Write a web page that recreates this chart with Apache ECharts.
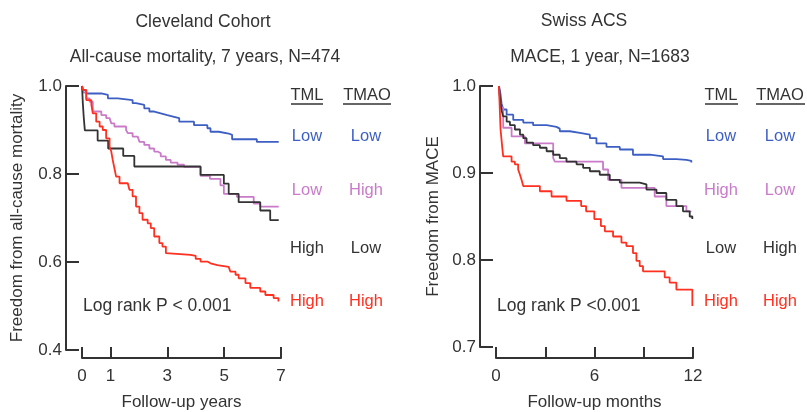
<!DOCTYPE html>
<html>
<head>
<meta charset="utf-8">
<script src="https://cdn.jsdelivr.net/npm/echarts@6/dist/echarts.min.js"></script>
<style>
  html, body { margin: 0; padding: 0; background: #fff; }
  #chart { width: 807px; height: 412px; }
</style>
</head>
<body>
<div id="chart"></div>
<script>
// Cleveland cohort, follow-up in years
var leftBlueT = [0, 0.05, 0.15, 0.68, 0.91, 1.26, 1.78, 1.9, 2.19, 2.37, 2.54, 2.77, 3.0, 3.24, 3.42, 3.94, 4.41, 4.52, 4.81, 5.16, 5.28, 6.15, 6.92];
var leftBlueS = [1.0, 0.99, 0.983, 0.98, 0.972, 0.968, 0.961, 0.957, 0.949, 0.942, 0.938, 0.934, 0.93, 0.927, 0.919, 0.911, 0.904, 0.896, 0.892, 0.889, 0.879, 0.873, 0.873];

var leftPinkT = [0, 0.05, 0.15, 0.27, 0.38, 0.68, 0.85, 0.97, 1.03, 1.14, 1.55, 1.61, 1.78, 1.96, 2.02, 2.19, 2.37, 2.54, 2.66, 2.77, 2.95, 3.12, 3.36, 3.59, 4.17, 4.5, 4.87, 4.99, 5.45, 6.04, 6.27, 6.92];
var leftPinkS = [1.0, 0.985, 0.972, 0.964, 0.942, 0.934, 0.927, 0.923, 0.915, 0.908, 0.9, 0.893, 0.885, 0.881, 0.873, 0.866, 0.858, 0.851, 0.847, 0.84, 0.832, 0.826, 0.821, 0.816, 0.796, 0.789, 0.774, 0.755, 0.748, 0.733, 0.726, 0.726];

var leftBlackT = [0, 0.03, 0.06, 0.1, 0.55, 0.92, 1.45, 1.84, 4.17, 4.99, 5.16, 5.51, 6.27, 6.62, 6.92];
var leftBlackS = [1.0, 0.96, 0.93, 0.899, 0.876, 0.858, 0.841, 0.817, 0.798, 0.778, 0.755, 0.736, 0.717, 0.695, 0.695];

var leftRedT = [0, 0.03, 0.15, 0.33, 0.38, 0.5, 0.62, 0.73, 0.85, 0.97, 1.03, 1.08, 1.14, 1.2, 1.32, 1.61, 1.67, 1.78, 1.9, 2.02, 2.13, 2.31, 2.42, 2.54, 2.72, 2.83, 2.95, 3.0, 3.82, 4.0, 4.17, 4.41, 4.52, 4.76, 5.16, 5.22, 5.4, 5.51, 5.75, 5.92, 6.27, 6.45, 6.74, 6.91];
var leftRedS = [1.0, 0.991, 0.968, 0.957, 0.938, 0.919, 0.908, 0.9, 0.881, 0.862, 0.851, 0.832, 0.813, 0.794, 0.779, 0.775, 0.764, 0.749, 0.726, 0.711, 0.696, 0.688, 0.677, 0.658, 0.643, 0.635, 0.62, 0.616, 0.614, 0.607, 0.601, 0.597, 0.593, 0.589, 0.586, 0.578, 0.571, 0.563, 0.552, 0.541, 0.533, 0.525, 0.518, 0.51];

// Swiss ACS, follow-up in months
var rightBlueT = [0.2, 0.26, 0.3, 0.36, 0.46, 0.67, 1.07, 1.68, 2.28, 3.1, 3.7, 3.9, 4.51, 5.12, 5.73, 6.13, 6.74, 7.55, 8.35, 9.37, 10.18, 10.99, 11.6, 11.9];
var rightBlueS = [1.0, 0.995, 0.99, 0.98, 0.973, 0.967, 0.961, 0.958, 0.955, 0.953, 0.951, 0.948, 0.946, 0.944, 0.94, 0.934, 0.93, 0.927, 0.921, 0.919, 0.916, 0.915, 0.914, 0.912];

var rightPinkT = [0.2, 0.3, 0.46, 0.97, 1.78, 3.5, 3.6, 6.53, 6.84, 7.65, 9.67, 10.38, 11.6, 11.9];
var rightPinkS = [1.0, 0.975, 0.952, 0.942, 0.934, 0.917, 0.913, 0.904, 0.892, 0.883, 0.873, 0.862, 0.856, 0.856];

var rightBlackT = [0.2, 0.25, 0.3, 0.36, 0.46, 0.67, 0.87, 1.17, 1.48, 1.68, 1.88, 2.28, 2.69, 3.1, 3.5, 3.9, 4.31, 4.92, 5.32, 5.73, 6.33, 6.94, 7.55, 8.76, 9.17, 9.78, 10.38, 10.99, 11.39, 11.8, 11.96];
var rightBlackS = [1.0, 0.99, 0.98, 0.972, 0.965, 0.959, 0.955, 0.95, 0.944, 0.94, 0.935, 0.932, 0.929, 0.925, 0.921, 0.917, 0.913, 0.91, 0.906, 0.902, 0.898, 0.892, 0.889, 0.887, 0.881, 0.877, 0.869, 0.862, 0.856, 0.85, 0.847];

var rightRedT = [0.2, 0.3, 0.4, 0.46, 0.97, 1.17, 1.37, 1.48, 1.58, 1.68, 2.69, 3.4, 4.31, 5.2, 5.5, 6.0, 6.4, 6.64, 7.14, 7.65, 7.95, 8.35, 8.56, 8.76, 8.96, 10.28, 10.58, 10.99, 11.96];
var rightRedS = [1.0, 0.95, 0.93, 0.919, 0.913, 0.91, 0.904, 0.898, 0.892, 0.885, 0.879, 0.873, 0.868, 0.862, 0.856, 0.847, 0.839, 0.833, 0.827, 0.82, 0.816, 0.808, 0.799, 0.793, 0.787, 0.78, 0.774, 0.766, 0.747];

var leftTicks = [0, 1, 3, 5, 7];
var rightTicks = [0, 3, 6, 9, 12];
var rightLabels = [0, 6, 12];

// legend rows: TML, TMAO
var leftRows = [['Low', 'Low'], ['Low', 'High'], ['High', 'Low'], ['High', 'High']];
var rightRows = [['Low', 'Low'], ['High', 'Low'], ['Low', 'High'], ['High', 'High']];

var colors = ['#3d5fc4', '#c97bc9', '#333333', '#ff3020'];
var FONT = '"Liberation Sans", Arial, sans-serif';
var INK = '#333';
var AXIS_FS = 17;

function zip(t, s) {
    var out = [];
    for (var i = 0; i < t.length; i++) out.push([t[i], s[i]]);
    return out;
}

function curve(t, s, color, idx) {
    return {
        type: 'line',
        step: 'end',
        xAxisIndex: idx,
        yAxisIndex: idx,
        data: zip(t, s),
        showSymbol: false,
        symbol: 'none',
        lineStyle: { color: color, width: 1.8 },
        animation: false,
        silent: true
    };
}

function plotX(grid, min, max) {
    return { gridIndex: grid, type: 'value', min: min, max: max, show: false };
}

function plotY(grid, min, max, interval, name, gap) {
    return {
        gridIndex: grid, type: 'value', min: min, max: max, interval: interval,
        axisLine: { show: true, onZero: false, lineStyle: { color: INK, width: 2 } },
        axisTick: { show: true, inside: true, length: 13, lineStyle: { color: INK, width: 2 } },
        axisLabel: {
            margin: 4, fontSize: AXIS_FS, color: INK, fontFamily: FONT,
            formatter: function (v) { return v.toFixed(1); }
        },
        splitLine: { show: false },
        name: name, nameLocation: 'middle', nameGap: gap,
        nameTextStyle: { fontSize: AXIS_FS, color: INK, fontFamily: FONT }
    };
}

function timeX(grid, min, max, ticks, labels, name) {
    return {
        gridIndex: grid, type: 'value', min: min, max: max, position: 'bottom',
        axisLine: { show: true, onZero: false, lineStyle: { color: INK, width: 2 } },
        axisTick: { show: true, inside: true, length: 11, customValues: ticks, lineStyle: { color: INK, width: 2 } },
        axisLabel: { customValues: labels, margin: 10, fontSize: AXIS_FS, color: INK, fontFamily: FONT },
        splitLine: { show: false },
        name: name, nameLocation: 'middle', nameGap: 36,
        nameTextStyle: { fontSize: AXIS_FS, color: INK, fontFamily: FONT }
    };
}

function hiddenY(grid) {
    return { gridIndex: grid, type: 'value', min: 0, max: 1, show: false };
}

function label(text, x, y, color, align, size) {
    return {
        type: 'text', x: x, y: y, silent: true,
        style: {
            text: text, fill: color || INK, font: (size || 16.5) + 'px ' + FONT,
            textAlign: align || 'center', textVerticalAlign: 'middle'
        }
    };
}

function underline(x1, x2, y) {
    return {
        type: 'line', silent: true,
        shape: { x1: x1, y1: y, x2: x2, y2: y },
        style: { stroke: INK, lineWidth: 1.5 }
    };
}

var rowY = [136, 190, 248, 301];
var graphics = [
    label('Cleveland Cohort', 203, 22, INK, 'center', 17.5),
    label('All-cause mortality, 7 years, N=474', 205, 57, INK, 'center', 17.5),
    label('Swiss ACS', 584, 21, INK, 'center', 17.5),
    label('MACE, 1 year, N=1683', 600, 57, INK, 'center', 17.5),
    label('Log rank P < 0.001', 83, 306, INK, 'left', 17.5),
    label('Log rank P <0.001', 497, 306, INK, 'left', 17.5),
    label('TML', 307, 95),
    label('TMAO', 367, 95),
    underline(291, 323, 104),
    underline(343, 391, 104),
    label('TML', 721, 95),
    label('TMAO', 780, 95),
    underline(705, 738, 104),
    underline(756, 805, 104)
];
for (var i = 0; i < 4; i++) {
    graphics.push(label(leftRows[i][0], 307, rowY[i], colors[i]));
    graphics.push(label(leftRows[i][1], 366, rowY[i], colors[i]));
    graphics.push(label(rightRows[i][0], 721, rowY[i], colors[i]));
    graphics.push(label(rightRows[i][1], 780, rowY[i], colors[i]));
}

var chart = echarts.init(document.getElementById('chart'), null, { renderer: 'canvas' });
chart.setOption({
    backgroundColor: '#fff',
    animation: false,
    grid: [
        { left: 66, top: 86, width: 215, height: 264 },
        { left: 480, top: 86, width: 213, height: 261 },
        { left: 82, top: 300, width: 199, height: 66 },
        { left: 496, top: 300, width: 197, height: 67 }
    ],
    xAxis: [
        plotX(0, -0.563, 7),
        plotX(1, -0.95, 12),
        timeX(2, 0, 7, leftTicks, leftTicks, 'Follow-up years'),
        timeX(3, 0, 12, rightTicks, rightLabels, 'Follow-up months')
    ],
    yAxis: [
        plotY(0, 0.4, 1.0, 0.2, 'Freedom from all-cause mortality', 40),
        plotY(1, 0.7, 1.0, 0.1, 'Freedom from MACE', 38),
        hiddenY(2),
        hiddenY(3)
    ],
    series: [
        curve(leftBlueT, leftBlueS, colors[0], 0),
        curve(leftPinkT, leftPinkS, colors[1], 0),
        curve(leftBlackT, leftBlackS, colors[2], 0),
        curve(leftRedT, leftRedS, colors[3], 0),
        curve(rightBlueT, rightBlueS, colors[0], 1),
        curve(rightPinkT, rightPinkS, colors[1], 1),
        curve(rightBlackT, rightBlackS, colors[2], 1),
        curve(rightRedT, rightRedS, colors[3], 1)
    ],
    graphic: graphics
});
</script>
</body>
</html>
